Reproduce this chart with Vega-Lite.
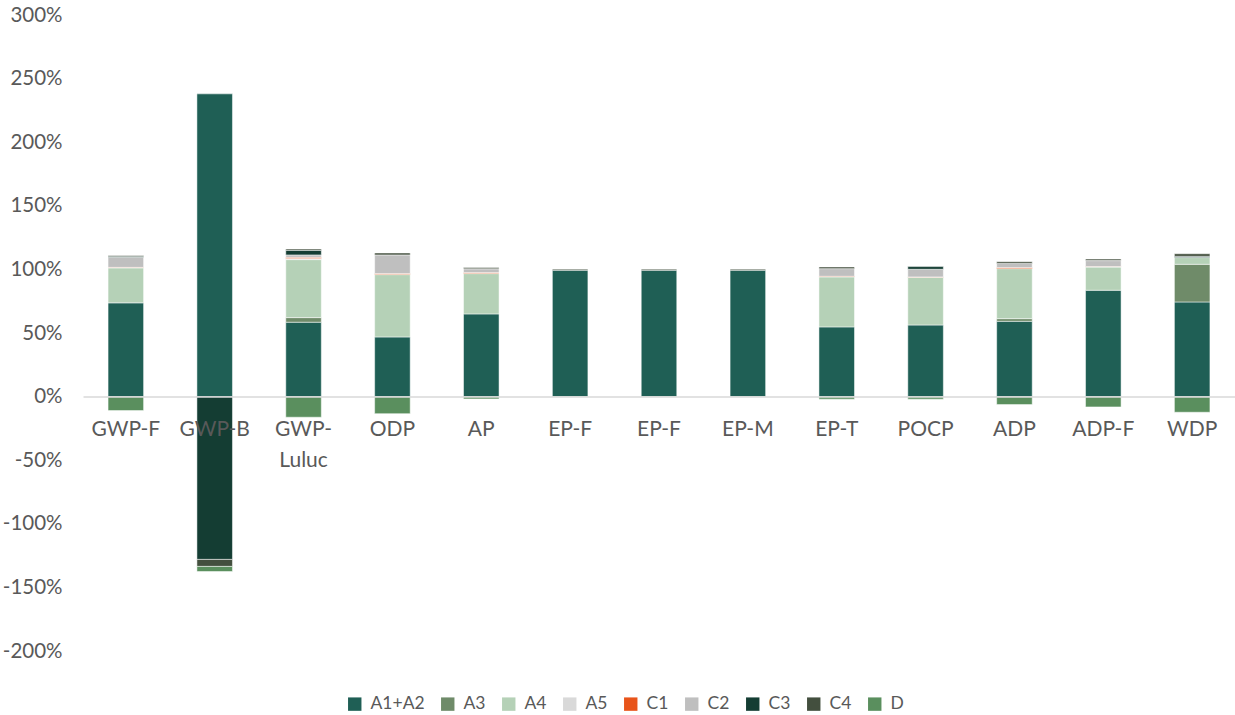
{
  "$schema": "https://vega.github.io/schema/vega-lite/v6.json",
  "width": 1152,
  "height": 636,
  "autosize": {"type": "none"},
  "padding": {"left": 83, "top": 15, "right": 0, "bottom": 64},
  "background": "white",
  "config": {"view": {"stroke": null}, "font": "Lato"},
  "data": {"values": [
    {"c": "GWP-F", "s": "A1+A2", "v": 73.7},
    {"c": "GWP-F", "s": "A4", "v": 27.5},
    {"c": "GWP-F", "s": "C1", "v": 0.4},
    {"c": "GWP-F", "s": "C2", "v": 8.0},
    {"c": "GWP-F", "s": "C3", "v": 0.8},
    {"c": "GWP-F", "s": "C4", "v": 0.5},
    {"c": "GWP-F", "s": "D", "v": -11},
    {"c": "GWP-B", "s": "A1+A2", "v": 238},
    {"c": "GWP-B", "s": "C3", "v": -128},
    {"c": "GWP-B", "s": "C4", "v": -5.5},
    {"c": "GWP-B", "s": "D", "v": -4},
    {"c": "GWP-Luluc", "s": "A1+A2", "v": 58.5},
    {"c": "GWP-Luluc", "s": "A3", "v": 3.6},
    {"c": "GWP-Luluc", "s": "A4", "v": 45.6},
    {"c": "GWP-Luluc", "s": "A5", "v": 0.9},
    {"c": "GWP-Luluc", "s": "C1", "v": 0.9},
    {"c": "GWP-Luluc", "s": "C2", "v": 1.9},
    {"c": "GWP-Luluc", "s": "C3", "v": 3.6},
    {"c": "GWP-Luluc", "s": "C4", "v": 1.0},
    {"c": "GWP-Luluc", "s": "D", "v": -16.2},
    {"c": "ODP", "s": "A1+A2", "v": 46.9},
    {"c": "ODP", "s": "A4", "v": 49},
    {"c": "ODP", "s": "C1", "v": 0.8},
    {"c": "ODP", "s": "C2", "v": 14.7},
    {"c": "ODP", "s": "C4", "v": 1.5},
    {"c": "ODP", "s": "D", "v": -13.4},
    {"c": "AP", "s": "A1+A2", "v": 65},
    {"c": "AP", "s": "A4", "v": 31.7},
    {"c": "AP", "s": "C1", "v": 0.8},
    {"c": "AP", "s": "C2", "v": 3.0},
    {"c": "AP", "s": "C4", "v": 1.0},
    {"c": "AP", "s": "D", "v": -1.8},
    {"c": "EP-F", "s": "A1+A2", "v": 99.3},
    {"c": "EP-F", "s": "C4", "v": 0.9},
    {"c": "EP-F", "s": "D", "v": -0.3},
    {"c": "EP-F ", "s": "A1+A2", "v": 99.3},
    {"c": "EP-F ", "s": "C4", "v": 0.9},
    {"c": "EP-F ", "s": "D", "v": -0.3},
    {"c": "EP-M", "s": "A1+A2", "v": 99.3},
    {"c": "EP-M", "s": "C4", "v": 0.9},
    {"c": "EP-M", "s": "D", "v": -0.3},
    {"c": "EP-T", "s": "A1+A2", "v": 54.8},
    {"c": "EP-T", "s": "A4", "v": 39.3},
    {"c": "EP-T", "s": "C1", "v": 0.5},
    {"c": "EP-T", "s": "C2", "v": 6.0},
    {"c": "EP-T", "s": "C4", "v": 1.3},
    {"c": "EP-T", "s": "D", "v": -2},
    {"c": "POCP", "s": "A1+A2", "v": 56.3},
    {"c": "POCP", "s": "A4", "v": 37.5},
    {"c": "POCP", "s": "C1", "v": 0.3},
    {"c": "POCP", "s": "C2", "v": 6.0},
    {"c": "POCP", "s": "C3", "v": 2.1},
    {"c": "POCP", "s": "D", "v": -2},
    {"c": "ADP", "s": "A1+A2", "v": 59.2},
    {"c": "ADP", "s": "A3", "v": 2.1},
    {"c": "ADP", "s": "A4", "v": 39.3},
    {"c": "ADP", "s": "C1", "v": 0.8},
    {"c": "ADP", "s": "C2", "v": 3.3},
    {"c": "ADP", "s": "C4", "v": 1.3},
    {"c": "ADP", "s": "D", "v": -6.3},
    {"c": "ADP-F", "s": "A1+A2", "v": 83.6},
    {"c": "ADP-F", "s": "A4", "v": 18.2},
    {"c": "ADP-F", "s": "C1", "v": 0.5},
    {"c": "ADP-F", "s": "C2", "v": 4.6},
    {"c": "ADP-F", "s": "C4", "v": 1.2},
    {"c": "ADP-F", "s": "D", "v": -8.1},
    {"c": "WDP", "s": "A1+A2", "v": 74.4},
    {"c": "WDP", "s": "A3", "v": 29.6},
    {"c": "WDP", "s": "A4", "v": 5.3},
    {"c": "WDP", "s": "C3", "v": 1.0},
    {"c": "WDP", "s": "C4", "v": 2.0},
    {"c": "WDP", "s": "D", "v": -12.3}
  ]},
  "mark": {"type": "bar", "stroke": "white", "strokeWidth": 0.5},
  "encoding": {
    "x": {
      "field": "c",
      "type": "nominal",
      "sort": ["GWP-F", "GWP-B", "GWP-Luluc", "ODP", "AP", "EP-F", "EP-F ", "EP-M", "EP-T", "POCP", "ADP", "ADP-F", "WDP"],
      "scale": {"paddingInner": 0.6, "paddingOuter": 0.282},
      "axis": {
        "title": null,
        "orient": "bottom",
        "offset": -254.4,
        "zindex": 1,
        "ticks": false,
        "labelAngle": 0,
        "labelPadding": 22,
        "labelFont": "Lato",
        "labelFontSize": 21,
        "labelLineHeight": 31,
        "labelColor": "#595959",
        "labelExpr": "datum.value == 'GWP-Luluc' ? ['GWP-', 'Luluc'] : datum.value",
        "domainColor": "#D9D9D9",
        "domainWidth": 1.5
      }
    },
    "y": {
      "field": "v",
      "type": "quantitative",
      "stack": "zero",
      "scale": {"domain": [-200, 300], "nice": false},
      "axis": {
        "title": null,
        "values": [-200, -150, -100, -50, 0, 50, 100, 150, 200, 250, 300],
        "labelExpr": "datum.value + '%'",
        "grid": false,
        "domain": false,
        "ticks": false,
        "labelPadding": 21,
        "labelFont": "Lato",
        "labelFontSize": 20.5,
        "labelColor": "#595959"
      }
    },
    "color": {
      "field": "s",
      "type": "nominal",
      "scale": {
        "domain": ["A1+A2", "A3", "A4", "A5", "C1", "C2", "C3", "C4", "D"],
        "range": ["#1F5F55", "#6F8B69", "#B5D1B7", "#D9D9D9", "#E8541A", "#BFBFBF", "#143D33", "#434F3E", "#5A8F5E"]
      },
      "legend": {
        "title": null,
        "orient": "none",
        "direction": "horizontal",
        "columns": 9,
        "legendX": 263,
        "legendY": 680,
        "symbolType": "square",
        "symbolSize": 180,
        "symbolStrokeWidth": 0,
        "labelFont": "Lato",
        "labelFontSize": 17.5,
        "labelColor": "#595959",
        "labelOffset": 7,
        "columnPadding": 14
      }
    },
    "order": {"field": "s", "sort": "ascending"}
  }
}
